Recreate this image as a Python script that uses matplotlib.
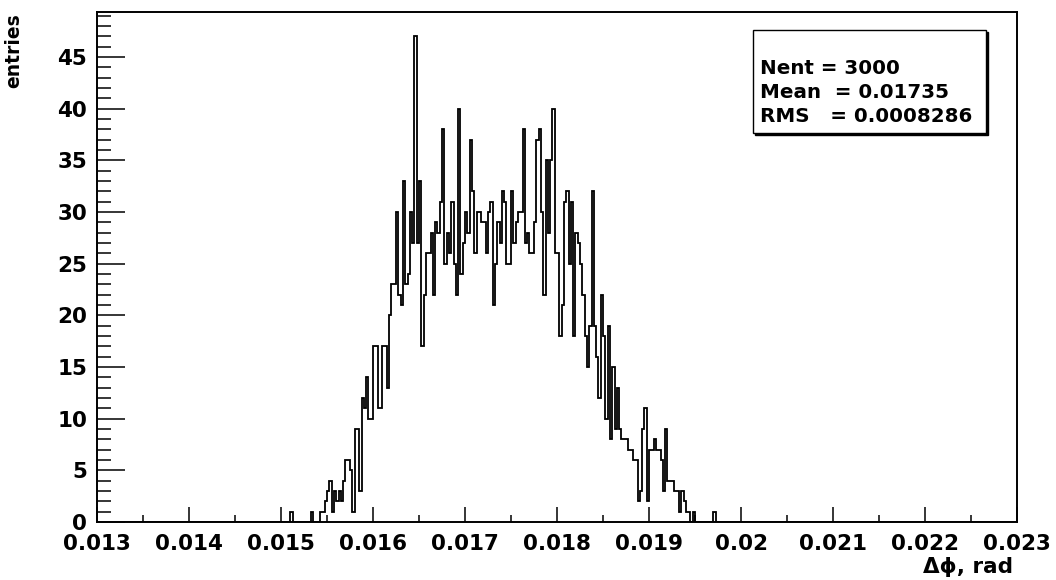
import numpy as np
import matplotlib
matplotlib.use("Agg")
import matplotlib.pyplot as plt
from matplotlib.ticker import MultipleLocator, FuncFormatter
from matplotlib.patches import Rectangle

# binning: 400 bins between 0.013 and 0.023 rad
x_lo, x_hi, n_bins = 0.013, 0.023, 400
first_edge = 0.0151   # low edge of the first filled bin

# bin contents, starting at first_edge
counts = [
    1, 0, 0, 0, 0, 0, 0, 0, 0, 1,
    0, 0, 0, 1, 1, 2, 3, 4, 1, 3,
    2, 3, 2, 4, 6, 6, 5, 1, 9, 9,
    3, 12, 11, 14, 10, 10, 17, 17, 11, 11,
    17, 17, 13, 20, 23, 23, 30, 22, 21, 33,
    23, 24, 30, 27, 47, 27, 33, 17, 22, 26,
    26, 28, 22, 29, 28, 31, 38, 25, 28, 26,
    31, 25, 22, 40, 24, 27, 30, 28, 37, 32,
    26, 30, 30, 29, 29, 26, 30, 31, 21, 25,
    29, 27, 32, 31, 25, 25, 32, 27, 29, 30,
    30, 38, 27, 28, 26, 26, 29, 37, 38, 30,
    22, 35, 28, 35, 40, 26, 26, 18, 21, 31,
    32, 25, 31, 18, 28, 27, 25, 22, 18, 15,
    19, 32, 19, 16, 12, 22, 18, 10, 19, 8,
    15, 9, 13, 9, 8, 8, 8, 7, 7, 6,
    6, 2, 3, 9, 11, 2, 7, 7, 8, 7,
    7, 6, 3, 9, 4, 4, 4, 3, 3, 1,
    3, 2, 1, 1, 0, 1, 0, 0, 0, 0,
    0, 0, 0, 0, 1,
]

stat_lines = ["Nent = 3000", "Mean  = 0.01735", "RMS   = 0.0008286"]

edges = np.linspace(x_lo, x_hi, n_bins + 1)
width = (x_hi - x_lo) / n_bins
start = int(round((first_edge - x_lo) / width))
values = np.zeros(n_bins)
values[start:start + len(counts)] = counts

fig = plt.figure(figsize=(10.56, 5.8), dpi=100)
ax = fig.add_axes([97 / 1056, 1 - 522 / 580, 920 / 1056, 510 / 580])

ax.stairs(values, edges, baseline=0, color="black", linewidth=1.3)

ax.set_xlim(x_lo, x_hi)
ax.set_ylim(0, max(counts) * 1.05)

font = {"family": "DejaVu Sans", "weight": "bold"}

ax.xaxis.set_major_locator(MultipleLocator(0.001))
ax.xaxis.set_minor_locator(MultipleLocator(0.0005))
ax.yaxis.set_major_locator(MultipleLocator(5))
ax.yaxis.set_minor_locator(MultipleLocator(1))
ax.xaxis.set_major_formatter(FuncFormatter(lambda v, p: "%g" % round(v, 4)))
ax.yaxis.set_major_formatter(FuncFormatter(lambda v, p: "%d" % v))

ax.tick_params(axis="x", which="major", direction="in", length=11, width=1.1, pad=9)
ax.tick_params(axis="x", which="minor", direction="in", length=5.4, width=1.1)
ax.tick_params(axis="y", which="major", direction="in", length=20, width=1.1, pad=7)
ax.tick_params(axis="y", which="minor", direction="in", length=10, width=1.1)
for lab in ax.get_xticklabels() + ax.get_yticklabels():
    lab.set_fontfamily("DejaVu Sans")
    lab.set_fontweight("bold")
    lab.set_fontsize(15.5)

for sp in ax.spines.values():
    sp.set_linewidth(1.4)

fig.text(0.013, 1 - 13 / 580, "entries", rotation=90, ha="center", va="top",
         fontsize=13.5, **font)
fig.text(1013 / 1056, 1 - 567 / 580, "\u0394\u03d5, rad", ha="right", va="center",
         fontsize=15.5, **font)

# stat box with shadow
bx0, bx1 = 753 / 1056, 986 / 1056
by0, by1 = 1 - 133 / 580, 1 - 30 / 580
fig.patches.append(Rectangle((bx0 + 2 / 1056, by0 - 2 / 580), bx1 - bx0, by1 - by0,
                             transform=fig.transFigure, facecolor="black",
                             edgecolor="black", zorder=5))
fig.patches.append(Rectangle((bx0, by0), bx1 - bx0, by1 - by0,
                             transform=fig.transFigure, facecolor="white",
                             edgecolor="black", linewidth=1.0, zorder=6))
for k, line in enumerate(stat_lines):
    fig.text(760 / 1056, 1 - (68 + 24 * k) / 580, line, ha="left", va="center",
             fontsize=14.3, zorder=7, **font)

fig.savefig("out.png", dpi=100)
